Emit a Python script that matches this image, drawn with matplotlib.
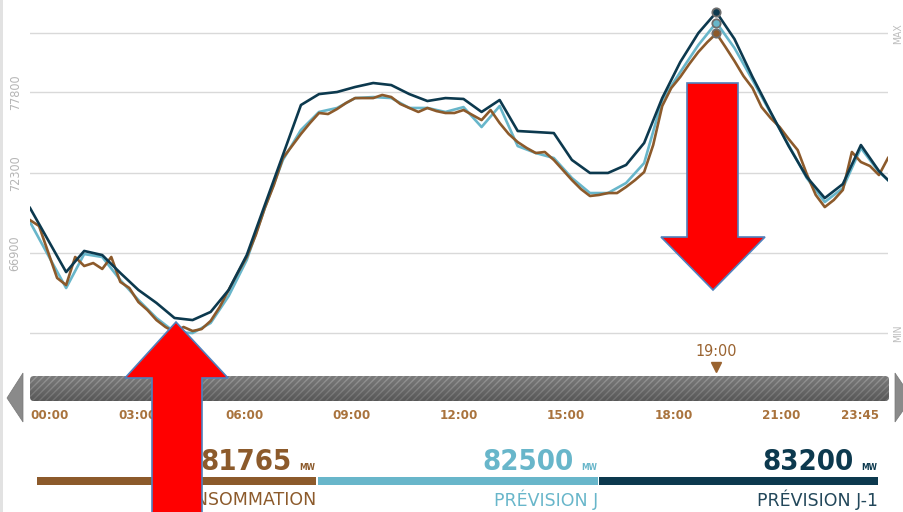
import numpy as np
import matplotlib
matplotlib.use('Agg')
import matplotlib.pyplot as plt
from matplotlib import font_manager, transforms
from matplotlib.patches import FancyBboxPatch, Polygon, Rectangle

# time in hours: consumption every 15 min, forecasts every 30 min (+ 23:45)
t_cons = np.arange(96) * 0.25
t_prev = np.append(np.arange(48) * 0.5, 23.75)

# MW values
consommation = [
    69130, 68730, 66970, 65210, 64730, 66630, 66020, 66220,
    65820, 66630, 64940, 64530, 63580, 63040, 62360, 61890,
    61550, 61890, 61620, 61750, 62300, 63240, 64400, 65550,
    66630, 68120, 69950, 71500, 73330, 74140, 74960, 75700,
    76380, 76310, 76650, 77060, 77390, 77390, 77390, 77600,
    77460, 76990, 76720, 76450, 76720, 76510, 76380, 76380,
    76580, 76240, 75900, 76580, 75700, 74960, 74410, 74010,
    73670, 73740, 73200, 72520, 71840, 71230, 70760, 70830,
    70960, 70960, 71370, 71840, 72380, 74210, 76850, 78070,
    78820, 79700, 80510, 81180, 81765, 80850, 79900, 78880,
    78070, 76780, 76040, 75430, 74620, 73870, 72250, 70830,
    70010, 70490, 71170, 73740, 73060, 72790, 72180, 73330,
]
prevision_j = [
    69000, 66760, 64530, 66830, 66630, 65070, 63720, 62500,
    61550, 61480, 62160, 63990, 66430, 69950, 73200, 75230,
    76450, 76720, 77390, 77460, 77390, 76720, 76720, 76450,
    76780, 75430, 76850, 74140, 73670, 73330, 71980, 70960,
    70960, 71640, 72990, 77260, 79150, 80980, 82500, 80780,
    78610, 76380, 74210, 71980, 70350, 71300, 74010, 72380,
    71840,
]
prevision_j1 = [
    69950, 67780, 65610, 67040, 66760, 65550, 64400, 63520,
    62500, 62360, 62910, 64400, 66760, 70150, 73530, 76920,
    77660, 77800, 78140, 78410, 78270, 77660, 77190, 77390,
    77330, 76450, 77260, 75160, 75090, 75020, 73200, 72320,
    72320, 72860, 74350, 77390, 79830, 81790, 83200, 81390,
    78820, 76450, 74140, 72050, 70620, 71570, 74210, 72450,
    71840,
]

y_labels = [66900, 72300, 77800]
time_ticks = [0, 3, 6, 9, 12, 15, 18, 21, 23.75]
time_labels = ['00:00', '03:00', '06:00', '09:00', '12:00', '15:00', '18:00', '21:00', '23:45']
names = ['CONSOMMATION', 'PRÉVISION J', 'PRÉVISION J-1']

BROWN = '#8c5a2b'
CYAN = '#68b6ca'
DARK = '#0c394e'
TIME_COL = '#a9733d'

# condensed face if the system has one, else plain DejaVu at a smaller size
ttf = font_manager.fontManager.ttflist
COND = any(f.name == 'DejaVu Sans' and f.stretch == 'condensed' for f in ttf)
STRETCH = 'condensed' if COND else 'normal'
k = 1.0 if COND else 0.88

W, H = 904, 512
fig = plt.figure(figsize=(W / 100, H / 100), dpi=100)
fig.patch.set_facecolor('white')


def px_axes(x0, y0, x1, y1, z=1):
    a = fig.add_axes([x0 / W, 1 - y1 / H, (x1 - x0) / W, (y1 - y0) / H])
    a.set_zorder(z)
    a.patch.set_visible(False)
    return a


# background overlay in pixel coordinates (decorations)
bg = px_axes(0, 0, W, H, z=0)
bg.axis('off')

# main chart
ax = px_axes(30, 0, 888, 340, z=1)
ax.set_xlim(0, 23.75)
ax.set_ylim(61010, 84030)
for s in ax.spines.values():
    s.set_visible(False)

vmin = min(min(consommation), min(prevision_j), min(prevision_j1))
vmax = max(consommation)
grid_vals = [vmin] + y_labels + [vmax]
ax.set_yticks(grid_vals)
ax.set_yticklabels([''] + [str(v) for v in y_labels] + [''])
ax.set_xticks([])
ax.grid(axis='y', color='#d9d9d9', lw=1)
ax.tick_params(axis='y', length=0, pad=6, labelcolor='#b5b5b5', labelsize=9 * k)
for lbl in ax.get_yticklabels():
    lbl.set_rotation(90)
    lbl.set_fontstretch(STRETCH)
    lbl.set_va('center')

ax2 = ax.twinx()
ax2.set_ylim(ax.get_ylim())
ax2.set_yticks([vmin, vmax])
ax2.set_yticklabels(['MIN', 'MAX'])
ax2.tick_params(axis='y', length=0, pad=4, labelcolor='#bdbdbd', labelsize=7.5)
for lbl in ax2.get_yticklabels():
    lbl.set_rotation(90)
    lbl.set_fontstretch(STRETCH)
    lbl.set_va('center')
for s in ax2.spines.values():
    s.set_visible(False)

series = [
    (t_prev, prevision_j, CYAN),
    (t_cons, consommation, BROWN),
    (t_prev, prevision_j1, DARK),
]
for t, v, c in series:
    ax.plot(t, v, color=c, lw=1.9, solid_joinstyle='round', zorder=3)
for t, v, c in series:
    i = int(np.argmax(v))
    ax.plot(t[i], v[i], 'o', ms=6, mfc=c, mec='#6e6e6e', mew=1.3, clip_on=False, zorder=5)

# left border strip
bg.add_patch(Rectangle((0, 0), 3, H, fc='#e2e2e2', ec='none'))

# timeline bar
bar = FancyBboxPatch((30, 376), 859, 25, boxstyle='round,pad=0,rounding_size=4',
                     fc='#7a7a7a', ec='#989898', lw=0, hatch='/////')
bg.add_patch(bar)
grad = np.zeros((20, 1, 4))
grad[:, 0, 3] = np.linspace(0.0, 0.28, 20)
im = bg.imshow(grad, extent=(30, 889, 401, 376), aspect='auto', zorder=3)
im.set_clip_path(bar)
bg.add_patch(Polygon([(7, 398), (23, 373), (23, 422)], fc='#8a8a8a', ec='#777777', lw=0.5))
bg.add_patch(Polygon([(895, 373), (895, 422), (912, 398)], fc='#8a8a8a', ec='#777777', lw=0.5))

# time labels under the bar
tax = px_axes(30, 376, 888, 401, z=2)
tax.set_xlim(0, 24)
tax.set_ylim(0, 1)
for s in tax.spines.values():
    s.set_visible(False)
tax.set_yticks([])
tax.set_xticks(time_ticks)
tax.set_xticklabels(time_labels)
tax.tick_params(axis='x', length=0, pad=5.5, labelcolor=TIME_COL, labelsize=9.5 * k)
for lbl in tax.get_xticklabels():
    lbl.set_fontweight('bold')
    lbl.set_fontstretch(STRETCH)
tax.get_xticklabels()[0].set_ha('left')
tax.get_xticklabels()[-1].set_ha('right')

# peak time marker above the bar
i_peak = int(np.argmax(consommation))
t_peak = t_cons[i_peak]
peak_tr = transforms.blended_transform_factory(ax.transData, tax.transAxes)
h = int(t_peak)
m = int(round((t_peak - h) * 60))
tax.text(t_peak, 2.0, f'{h:02d}:{m:02d}', transform=peak_tr, ha='center', va='center',
         fontsize=11.5 * k, fontstretch=STRETCH, color='#9a6330')
tax.plot([t_peak], [1.36], 'v', ms=7, color='#9a6330', transform=peak_tr, clip_on=False)

# bottom legend with peak values
bar_x = [(37, 316), (318, 598), (599, 878)]
name_cols = [BROWN, CYAN, '#22475a']
for (x0, x1), vals, c, nm, nc in zip(bar_x, [consommation, prevision_j, prevision_j1],
                                     [BROWN, CYAN, DARK], names, name_cols):
    bg.add_patch(Rectangle((x0, 477), x1 - x0, 8, fc=c, ec='none'))
    bg.text(x1 - 24, 470, f'{max(vals)}', ha='right', va='baseline', fontsize=21 * k,
            fontstretch=STRETCH, fontweight='bold', color=c)
    bg.text(x1 - 1, 470, 'MW', ha='right', va='baseline', fontsize=6,
            fontstretch=STRETCH, fontweight='bold', color=c)
    bg.text(x1, 500, nm, ha='right', va='center', fontsize=12.5, color=nc)

bg.set_xlim(0, W)
bg.set_ylim(H, 0)

# red arrows on top
fg = px_axes(0, 0, W, H, z=10)
fg.axis('off')
fg.add_patch(Polygon([(176, 322), (228, 378), (202, 378), (202, 520), (152, 520),
                      (152, 378), (125, 378)], fc='#ff0000', ec='#4f81bd', lw=1.2))
fg.add_patch(Polygon([(687, 83), (738, 83), (738, 237), (765, 237), (713, 290),
                      (661, 237), (687, 237)], fc='#ff0000', ec='#4f81bd', lw=1.2))
fg.set_xlim(0, W)
fg.set_ylim(H, 0)

fig.savefig('out.png', dpi=100, facecolor='white')
